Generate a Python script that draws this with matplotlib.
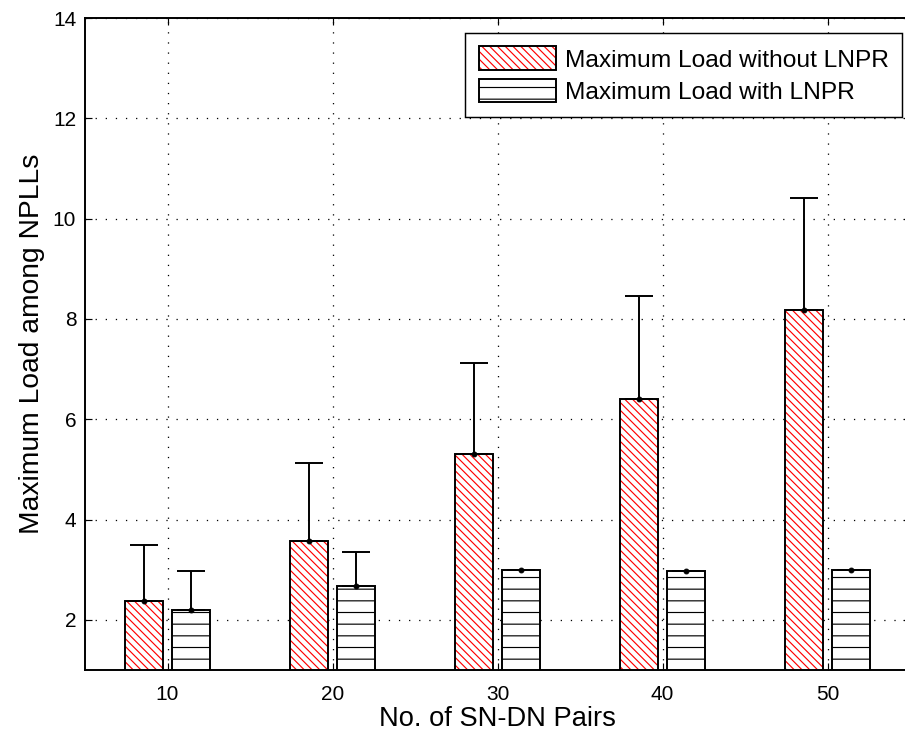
import matplotlib.pyplot as plt
from matplotlib.patches import Patch
from matplotlib.legend_handler import HandlerTuple
import numpy as np

pairs = [10, 20, 30, 40, 50]
load_without = [2.38, 3.58, 5.31, 6.40, 8.18]
err_without = [1.11, 1.54, 1.81, 2.06, 2.23]
load_with = [2.19, 2.68, 3.00, 2.98, 3.00]
err_with = [0.79, 0.68, 0.0, 0.0, 0.0]
labels = ['Maximum Load without LNPR', 'Maximum Load with LNPR']

plt.rcParams['font.family'] = ['Liberation Sans', 'DejaVu Sans']
plt.rcParams['hatch.linewidth'] = 1.2

DPI = 70
fig = plt.figure(figsize=(905 / DPI, 742 / DPI), dpi=DPI)
ax = fig.add_axes([85 / 905, 1 - 670 / 742, 825 / 905, 652 / 742])

x = np.array(pairs, dtype=float)
w = 2.27
off = 1.42
red_hatch = '\\\\\\'

# red hatched bars: hatch drawn in red, outline drawn separately in black
ax.bar(x - off, load_without, w, facecolor='white', edgecolor='red', hatch=red_hatch, linewidth=0, zorder=2)
ax.bar(x - off, load_without, w, fill=False, edgecolor='black', linewidth=2, zorder=3)
ax.bar(x + off, load_with, w, facecolor='white', edgecolor='black', hatch='-', linewidth=2, zorder=2)

zeros = np.zeros(len(pairs))
ax.errorbar(x - off, load_without, yerr=[zeros, err_without], fmt='o', color='black', ms=5,
            elinewidth=2, capsize=14, capthick=2, zorder=4)
ax.errorbar(x + off, load_with, yerr=[zeros, err_with], fmt='o', color='black', ms=5,
            elinewidth=2, capsize=14, capthick=2, zorder=4)

ax.set_xlim(5, 55)
ax.set_ylim(1, 14)
ax.set_xticks(pairs)
ax.set_yticks([2, 4, 6, 8, 10, 12, 14])
ax.set_axisbelow(True)
ax.grid(True, color='black', linestyle=(0, (1, 7)), linewidth=1.3)
ax.tick_params(direction='in', length=7, width=1.2, top=True, right=True, labelsize=21.5)
ax.tick_params(axis='x', pad=15)
ax.tick_params(axis='y', pad=9)
for s in ax.spines.values():
    s.set_linewidth(2)

ax.set_xlabel('No. of SN-DN Pairs', fontsize=28, labelpad=3)
ax.set_ylabel('Maximum Load among NPLLs', fontsize=29, labelpad=8)

h1 = (Patch(facecolor='white', edgecolor='red', hatch=red_hatch, linewidth=0),
      Patch(fill=False, edgecolor='black', linewidth=2))
h2 = Patch(facecolor='white', edgecolor='black', hatch='-', linewidth=2)
leg = ax.legend([h1, h2], labels, handler_map={tuple: HandlerTuple(ndivide=1, pad=0)},
                loc='upper right', bbox_to_anchor=(902 / 905, 1 - 33 / 742),
                bbox_transform=fig.transFigure, borderaxespad=0, fontsize=25.2,
                handlelength=3.15, handleheight=1.1, handletextpad=0.35, labelspacing=0.3,
                borderpad=0.55, fancybox=False, framealpha=1, edgecolor='black')
leg.get_frame().set_linewidth(1.5)

fig.savefig('out.png', dpi=DPI)
